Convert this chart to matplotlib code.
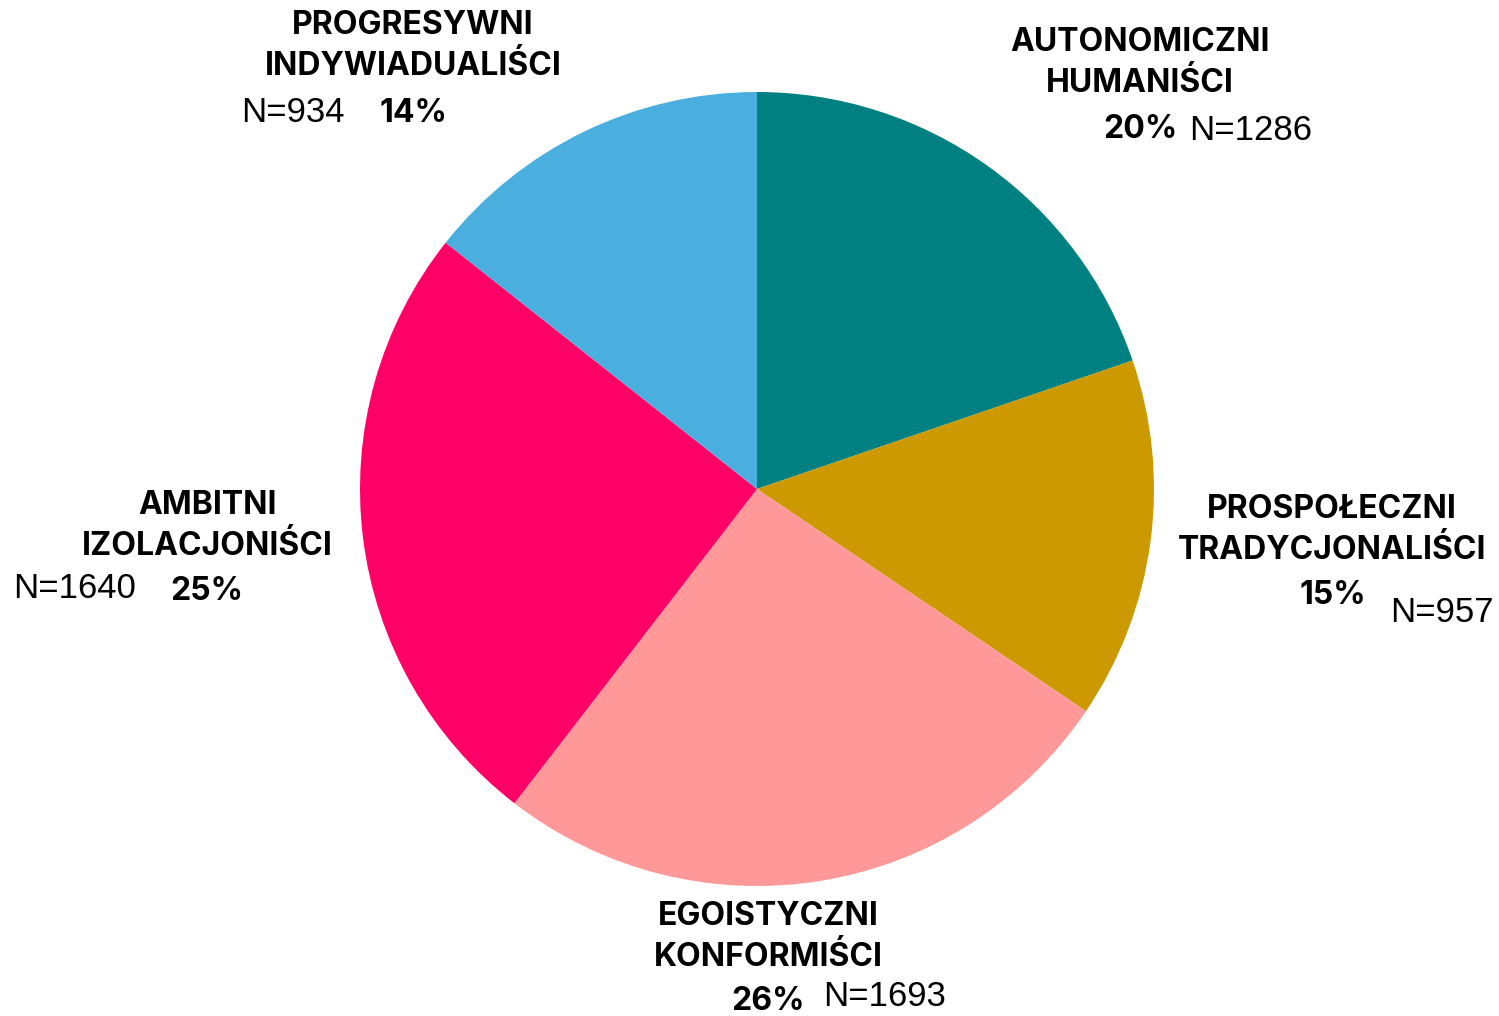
import matplotlib.pyplot as plt

# data
groups = ["AUTONOMICZNI\nHUMANIŚCI", "PROSPOŁECZNI\nTRADYCJONALIŚCI", "EGOISTYCZNI\nKONFORMIŚCI",
          "AMBITNI\nIZOLACJONIŚCI", "PROGRESYWNI\nINDYWIADUALIŚCI"]
counts = [1286, 957, 1693, 1640, 934]
pct_labels = ["20%", "15%", "26%", "25%", "14%"]
colors = ["#008080", "#CC9900", "#FF9999", "#FF0066", "#4AAFDF"]

W, H = 1499, 1016
fig = plt.figure(figsize=(W / 100, H / 100), dpi=100)

# pie centre (757, 489) px, radius 397 px
cx, cy, r = 757, 489, 397
ax = fig.add_axes([(cx - r) / W, (H - cy - r) / H, 2 * r / W, 2 * r / H])
ax.pie(counts, colors=colors, startangle=90, counterclock=False,
       wedgeprops=dict(linewidth=0))
ax.set_xlim(-1, 1)
ax.set_ylim(-1, 1)
ax.set_aspect("auto")
ax.axis("off")

bold = dict(family=["Inter", "DejaVu Sans"], fontweight="bold", fontsize=23, color="black")
reg = dict(family=["Liberation Sans", "DejaVu Sans"], fontsize=25, color="black")

# label anchors in pixels: (name centre, pct centre, N centre)
name_pos = [(1140, 63), (1332, 530), (768, 937), (207, 526), (413, 46)]
pct_pos = [(1140, 129), (1333, 596), (768, 1002), (207, 592), (413, 113)]
n_pos = [(1251, 130), (1442, 612), (885, 997), (75, 588), (293, 112)]


def fx(p):
    return p[0] / W, 1 - p[1] / H


for name, pct, n, a, b, c in zip(groups, pct_labels, counts, name_pos, pct_pos, n_pos):
    fig.text(*fx(a), name, ha="center", va="center", linespacing=1.42, **bold)
    fig.text(*fx(b), pct, ha="center", va="center", **bold)
    fig.text(*fx(c), f"N={n}", ha="center", va="center", **reg)

fig.savefig("out.png", dpi=100, facecolor="white")
